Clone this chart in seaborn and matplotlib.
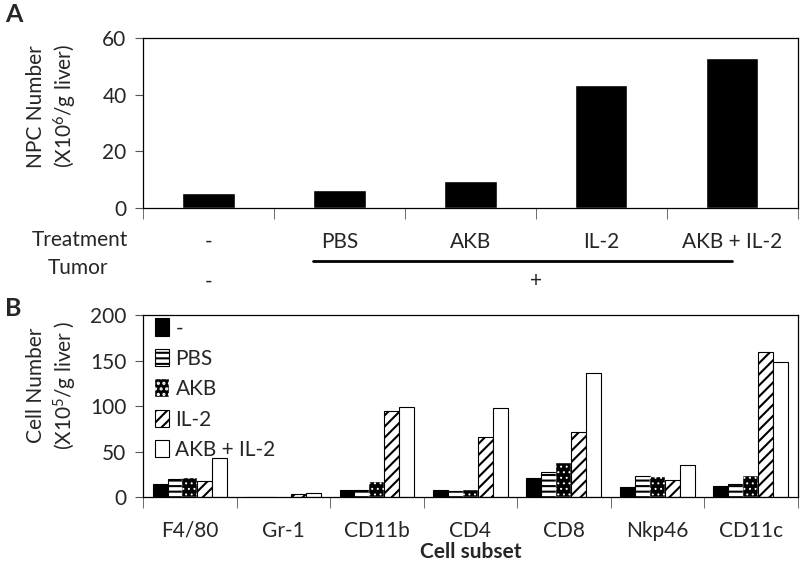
import pandas as pd
import matplotlib
matplotlib.use('Agg')
import matplotlib.pyplot as plt
import seaborn as sns

# data panel A
treatments = ['-', 'PBS', 'AKB', 'IL-2', 'AKB + IL-2']
tumor = ['-', '+']
npc_number = [5.3, 6.3, 9.7, 43.3, 52.9]

# data panel B
subsets = ['F4/80', 'Gr-1', 'CD11b', 'CD4', 'CD8', 'Nkp46', 'CD11c']
cells_none = [14.3, 0.5, 7.7, 7.3, 21.2, 11.0, 12.1]
cells_pbs = [19.4, 0.3, 8.0, 6.6, 27.1, 23.0, 14.3]
cells_akb = [20.9, 0.3, 16.8, 7.3, 37.4, 22.3, 22.7]
cells_il2 = [17.6, 3.3, 94.0, 65.6, 71.8, 19.0, 159.7]
cells_akb_il2 = [42.5, 4.4, 99.3, 97.4, 135.9, 35.5, 148.7]

sns.set_style('white')
plt.rcParams['font.family'] = ['Lato', 'DejaVu Sans']
plt.rcParams['mathtext.fontset'] = 'custom'
plt.rcParams['mathtext.rm'] = 'Lato'
plt.rcParams['mathtext.it'] = 'Lato:italic'
plt.rcParams['hatch.linewidth'] = 1.5
plt.rcParams['axes.edgecolor'] = 'black'
plt.rcParams['axes.linewidth'] = 0.9

FS = 15

fig = plt.figure(figsize=(8, 5.61), dpi=100)
axA = fig.add_axes([0.179, 0.629, 0.818, 0.303])
axB = fig.add_axes([0.179, 0.114, 0.818, 0.3245])

# ---- Panel A
dfA = pd.DataFrame({'treatment': treatments, 'npc': npc_number})
sns.barplot(data=dfA, x='treatment', y='npc', color='black', width=0.4,
            saturation=1, ax=axA)
axA.set_ylim(0, 60)
axA.set_yticks([0, 20, 40, 60])
axA.set_xlim(-0.5, len(treatments) - 0.5)
axA.set_xticks([])
axA.set_xticks([i - 0.5 for i in range(len(treatments) + 1)], minor=True)
axA.tick_params(axis='x', which='minor', length=8, direction='out', bottom=True, color='#555555')
axA.tick_params(axis='y', length=6, direction='out', left=True, labelsize=FS, pad=6, color='#555555')
axA.set_xlabel('')
axA.set_ylabel('NPC Number\n(X10$^{6}$/g liver)', fontsize=FS, linespacing=1.3)
axA.yaxis.set_label_coords(-0.098, 0.6)

# treatment / tumor rows under panel A
trans = axA.get_xaxis_transform()
fig.text(0.1, 1 - 240 / 561, 'Treatment', ha='center', va='center', fontsize=FS)
fig.text(0.097, 1 - 268 / 561, 'Tumor', ha='center', va='center', fontsize=FS)
for i, t in enumerate(treatments):
    axA.text(i, -0.20, t, transform=trans, ha='center', va='center', fontsize=FS, clip_on=False)
axA.text(0, -0.43, tumor[0], transform=trans, ha='center', va='center', fontsize=FS, clip_on=False)
axA.text(2.5, -0.43, tumor[1], transform=trans, ha='center', va='center', fontsize=FS, clip_on=False)
axA.plot([0.8, 4.0], [-0.31, -0.31], transform=trans, color='black', lw=2, clip_on=False)

# ---- Panel B
dfB = pd.DataFrame({
    'subset': subsets * 5,
    'treatment': sum([[t] * len(subsets) for t in treatments], []),
    'count': cells_none + cells_pbs + cells_akb + cells_il2 + cells_akb_il2,
})
sns.barplot(data=dfB, x='subset', y='count', hue='treatment', hue_order=treatments,
            palette=['black', 'white', 'black', 'white', 'white'], saturation=1,
            width=0.8, edgecolor='black', linewidth=0.8, ax=axB, legend=False)

hatches = [None, '---', '...', '///', None]
for cont, h in zip(axB.containers, hatches):
    for bar in cont:
        if h:
            bar.set_hatch(h)
        if h == '...':
            bar.set_edgecolor('white')
            bar.set_linewidth(0.3)
            if hasattr(bar, 'set_hatch_linewidth'):
                bar.set_hatch_linewidth(0.7)

axB.set_ylim(0, 200)
axB.set_yticks([0, 50, 100, 150, 200])
axB.set_xlim(-0.5, len(subsets) - 0.5)
axB.set_xticks(range(len(subsets)))
axB.set_xticklabels(subsets, fontsize=FS)
axB.set_xticks([i - 0.5 for i in range(len(subsets) + 1)], minor=True)
axB.tick_params(axis='x', which='major', length=0, pad=17)
axB.tick_params(axis='x', which='minor', length=8, direction='out', bottom=True, color='#555555')
axB.tick_params(axis='y', length=6, direction='out', left=True, labelsize=FS, pad=6, color='#555555')
axB.set_xlabel('Cell subset', fontsize=FS, fontweight='bold', labelpad=1)
axB.set_ylabel('Cell Number\n(X10$^{5}$/g liver )', fontsize=FS, linespacing=1.3)
axB.yaxis.set_label_coords(-0.098, 0.615)

axB.legend(handles=list(axB.containers), labels=treatments, loc='upper left',
           bbox_to_anchor=(0.0, 1.045), frameon=False, fontsize=FS,
           handlelength=0.7, handleheight=0.9, handletextpad=0.3, labelspacing=0.5,
           borderaxespad=0.15)

fig.text(0.006, 0.995, 'A', ha='left', va='top', fontsize=18, fontweight='bold')
fig.text(0.006, 1 - 297 / 561, 'B', ha='left', va='top', fontsize=18, fontweight='bold')

fig.savefig('out.png', dpi=100)
